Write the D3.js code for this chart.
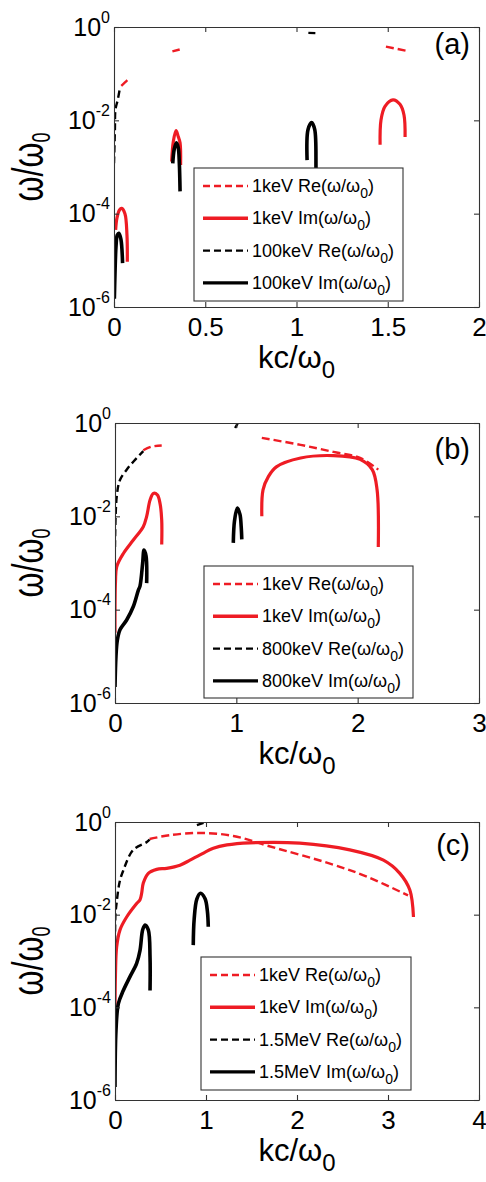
<!DOCTYPE html>
<html>
<head>
<meta charset="utf-8">
<script src="https://cdn.jsdelivr.net/npm/d3@7"></script>
<style>
  body { margin: 0; background: #fff; }
  text { font-family: "Liberation Sans", Arial, sans-serif; fill: #000; }
</style>
</head>
<body>
<div id="chart"></div>
<script>
// ---- data: [kc/w0, w/w0] pairs, one array per curve piece ----
// panel (a): 1keV and 100keV
var a_re1 = [[[0.04, 0.055], [0.06, 0.065], [0.077, 0.075]],
             [[0.32, 0.30], [0.36, 0.33]],
             [[1.49, 0.38], [1.6, 0.31]]];
var a_im1 = [[[0.009, 4.5e-5], [0.016, 8e-5], [0.03, 1.2e-4], [0.042, 1.3e-4], [0.06, 1.0e-4], [0.071, 3.5e-5], [0.073, 9.3e-6]],
             [[0.316, 1.3e-3], [0.325, 3.5e-3], [0.34, 6e-3], [0.352, 4.5e-3], [0.362, 3.3e-3], [0.365, 1.1e-3]],
             [[1.458, 3e-3], [1.463, 0.0102], [1.485, 0.020], [1.529, 0.0275], [1.567, 0.022], [1.589, 0.013], [1.595, 4.4e-3]]];
var a_re2 = [[[0.0, 1.2e-3], [0.005, 6.3e-3], [0.008, 0.017], [0.02, 0.027], [0.033, 0.05]],
             [[1.065, 0.75], [1.105, 0.74]]];
var a_im2 = [[[0.002, 1.5e-6], [0.005, 4.5e-6], [0.011, 2e-5], [0.018, 3.5e-5], [0.027, 3.8e-5], [0.038, 2.8e-5], [0.047, 8.7e-6]],
             [[0.322, 1.2e-3], [0.33, 2.4e-3], [0.342, 3.3e-3], [0.352, 2.6e-3], [0.358, 1.2e-3], [0.362, 3e-4]],
             [[1.058, 1.4e-3], [1.063, 6.3e-3], [1.083, 9e-3], [1.1, 6.3e-3], [1.107, 8.7e-4], [1.11, 2e-4]]];

// panel (b): 1keV and 800keV
var b_re1 = [[[0.233, 0.26], [0.3, 0.31], [0.385, 0.33]],
             [[1.21, 0.48], [1.53, 0.34], [1.8, 0.24], [2.02, 0.18], [2.17, 0.1]]];
var b_im1 = [[[0.0, 3.2e-5], [0.004, 4e-4], [0.014, 8.3e-4], [0.069, 1.6e-3], [0.151, 3.1e-3], [0.233, 6e-3], [0.261, 0.01],
              [0.289, 0.0224], [0.316, 0.031], [0.349, 0.0288], [0.371, 0.019], [0.385, 8.3e-3], [0.385, 2.5e-3]],
             [[1.21, 0.01], [1.22, 0.037], [1.264, 0.071], [1.33, 0.115], [1.53, 0.178], [1.8, 0.2], [2.02, 0.166],
              [2.12, 0.1], [2.16, 0.037], [2.17, 2.2e-3]]];
var b_re2 = [[[0.0, 2.2e-3], [0.014, 0.026], [0.041, 0.06], [0.096, 0.1], [0.151, 0.148], [0.233, 0.25]],
             [[0.99, 0.78], [1.01, 0.97]]];
var b_im2 = [[[0.0, 2.2e-6], [0.008, 1e-5], [0.019, 2.2e-5], [0.041, 3.7e-5], [0.096, 6e-5], [0.151, 1.17e-4], [0.192, 2.6e-4],
              [0.206, 3.2e-4], [0.228, 1e-3], [0.239, 1.9e-3], [0.256, 1.4e-3], [0.261, 3.7e-4]],
             [[0.975, 2.7e-3], [0.985, 8e-3], [1.008, 0.015], [1.03, 0.011], [1.04, 6e-3], [1.045, 3.2e-3]]];

// panel (c): 1keV and 1.5MeV
var c_re1 = [[[0.38, 0.43], [0.6, 0.52], [0.93, 0.58], [1.3, 0.5], [1.67, 0.31], [2.4, 0.12], [2.77, 0.066], [3.22, 0.026]]];
var c_im1 = [[[0.0, 7.4e-5], [0.005, 5e-4], [0.018, 2e-3], [0.055, 4.7e-3], [0.128, 8.9e-3], [0.238, 0.0174], [0.275, 0.021],
              [0.293, 0.029], [0.311, 0.048], [0.366, 0.078], [0.458, 0.095], [0.568, 0.1], [0.714, 0.117], [0.824, 0.15],
              [0.934, 0.195], [1.08, 0.27], [1.23, 0.32], [1.48, 0.355], [2.03, 0.35], [2.58, 0.25], [2.95, 0.15],
              [3.13, 0.078], [3.24, 0.034], [3.28, 8.9e-3]]];
var c_re2 = [[[0.0, 2.5e-3], [0.005, 0.01], [0.018, 0.018], [0.05, 0.05], [0.091, 0.09], [0.2, 0.25], [0.35, 0.37], [0.38, 0.42]],
             [[0.9, 0.86], [1.0, 1.0]]];
var c_im2 = [[[0.0, 1.9e-6], [0.011, 3.2e-5], [0.037, 1.2e-4], [0.091, 2.3e-4], [0.165, 4.6e-4], [0.238, 8.9e-4], [0.275, 1.7e-3],
              [0.304, 4.7e-3], [0.33, 6e-3], [0.366, 4.7e-3], [0.385, 1.2e-3], [0.385, 2.3e-4]],
             [[0.86, 2.2e-3], [0.87, 0.008], [0.9, 0.022], [0.94, 0.029], [0.99, 0.022], [1.015, 0.012], [1.025, 5.5e-3]]];

var xTicksA = [0, 0.5, 1, 1.5, 2];
var xTicksB = [0, 1, 2, 3];
var xTicksC = [0, 1, 2, 3, 4];
var yTicks = [1e-6, 1e-4, 1e-2, 1];
var energies = ["1keV", "100keV", "800keV", "1.5MeV"];

// ---- layout ----
var width = 486, height = 1182;
var red = "#ee1c24";

var panels = [
  {key: "a", tag: "(a)", top: 27, bottom: 307, left: 114, right: 479, xMax: 2, ticks: xTicksA,
   curves: [a_re1, a_im1, a_re2, a_im2], hi: energies[1], legend: [194, 168, 209, 133], tagY: 54},
  {key: "b", tag: "(b)", top: 423, bottom: 703, left: 115, right: 479, xMax: 3, ticks: xTicksB,
   curves: [b_re1, b_im1, b_re2, b_im2], hi: energies[2], legend: [204, 566, 209, 132], tagY: 459},
  {key: "c", tag: "(c)", top: 822, bottom: 1100, left: 115, right: 479, xMax: 4, ticks: xTicksC,
   curves: [c_re1, c_im1, c_re2, c_im2], hi: energies[3], legend: [201, 957, 210, 133], tagY: 855}
];

var styles = [
  {color: red, width: 2.4, dash: "8,4"},
  {color: red, width: 3.2, dash: null},
  {color: "#000", width: 2.4, dash: "7,4"},
  {color: "#000", width: 3.6, dash: null}
];

var svg = d3.select("#chart").append("svg")
    .attr("width", width)
    .attr("height", height);

panels.forEach(drawPanel);

function drawPanel(p) {
    var x = d3.scaleLinear().domain([0, p.xMax]).range([p.left, p.right]);
    var y = d3.scaleLog().domain([1e-6, 1]).range([p.bottom, p.top]);

    var g = svg.append("g");

    g.append("clipPath").attr("id", "clip-" + p.key)
      .append("rect")
        .attr("x", p.left).attr("y", p.top)
        .attr("width", p.right - p.left).attr("height", p.bottom - p.top);

    var line = d3.line()
        .x(function(d) { return x(d[0]); })
        .y(function(d) { return y(d[1]); })
        .curve(d3.curveCatmullRom.alpha(0.5));

    var plot = g.append("g").attr("clip-path", "url(#clip-" + p.key + ")");
    p.curves.forEach(function(pieces, i) {
        var s = styles[i];
        plot.selectAll(".c" + i)
            .data(pieces)
            .enter().append("path")
            .attr("class", "c" + i)
            .attr("d", line)
            .attr("fill", "none")
            .attr("stroke", s.color)
            .attr("stroke-width", s.width)
            .attr("stroke-dasharray", s.dash)
            .attr("stroke-linejoin", "round");
    });

    // box axes, ticks pointing inward
    var xb = g.append("g").attr("transform", "translate(0," + p.bottom + ")")
        .call(d3.axisBottom(x).tickValues(p.ticks).tickSizeInner(-5).tickSizeOuter(0).tickPadding(11)
              .tickFormat(d3.format("")));
    g.append("g").attr("transform", "translate(0," + p.top + ")")
        .call(d3.axisTop(x).tickValues(p.ticks).tickSizeInner(-5).tickSizeOuter(0).tickFormat(""));
    var yl = g.append("g").attr("transform", "translate(" + p.left + ",0)")
        .call(d3.axisLeft(y).tickValues(yTicks).tickSizeInner(-5).tickSizeOuter(0).tickPadding(4)
              .tickFormat(function() { return "10"; }));
    g.append("g").attr("transform", "translate(" + p.right + ",0)")
        .call(d3.axisRight(y).tickValues(yTicks).tickSizeInner(-5).tickSizeOuter(0).tickFormat(""));

    g.selectAll(".domain, .tick line").attr("stroke", "#333").attr("stroke-width", 1.1);

    xb.selectAll("text").attr("font-size", 26).attr("fill", "#000")
        .style("font-family", "'Liberation Sans', Arial, sans-serif");
    yl.selectAll("text").attr("font-size", 25).attr("fill", "#000")
        .style("font-family", "'Liberation Sans', Arial, sans-serif")
        .each(function(d) {
            d3.select(this).append("tspan")
                .attr("font-size", 16)
                .attr("dy", -13)
                .text(Math.round(Math.log10(d)));
        });

    // axis titles
    var xt = g.append("text")
        .attr("x", (p.left + p.right) / 2)
        .attr("y", p.bottom + 61)
        .attr("text-anchor", "middle")
        .attr("font-size", 31)
        .text("kc/ω");
    xt.append("tspan").attr("font-size", 24).attr("dy", 10).text("0");

    var yt = g.append("text")
        .attr("transform", "translate(43," + (p.top + p.bottom) / 2 + ") rotate(-90) scale(1,1.4)")
        .attr("text-anchor", "middle")
        .attr("font-size", 32)
        .text("ω/ω");
    yt.append("tspan").attr("font-size", 18).attr("dy", 5).text("0");

    g.append("text")
        .attr("x", 470)
        .attr("y", p.tagY)
        .attr("text-anchor", "end")
        .attr("font-size", 29)
        .text(p.tag);

    // legend
    var L = p.legend;
    var leg = g.append("g").attr("transform", "translate(" + L[0] + "," + L[1] + ")");
    leg.append("rect")
        .attr("width", L[2]).attr("height", L[3])
        .attr("fill", "#fff").attr("stroke", "#333").attr("stroke-width", 1.1);

    var labels = [
        [energies[0], "Re"], [energies[0], "Im"], [p.hi, "Re"], [p.hi, "Im"]
    ];
    var row = leg.selectAll(".row")
        .data(labels)
        .enter().append("g")
        .attr("class", "row")
        .attr("transform", function(d, i) { return "translate(0," + (18 + i * 32.3) + ")"; });
    row.append("line")
        .attr("x1", 9).attr("x2", 54)
        .attr("stroke", function(d, i) { return styles[i].color; })
        .attr("stroke-width", function(d, i) { return styles[i].dash ? 2.4 : 3.4; })
        .attr("stroke-dasharray", function(d, i) { return styles[i].dash ? "7,4" : null; });
    var t = row.append("text")
        .attr("x", 58)
        .attr("y", 6)
        .attr("font-size", 18)
        .text(function(d) { return d[0] + " " + d[1] + "(ω/ω"; });
    t.append("tspan").attr("font-size", 14).attr("dy", 6).text("0");
    t.append("tspan").attr("dy", -6).text(")");
}
</script>
</body>
</html>
